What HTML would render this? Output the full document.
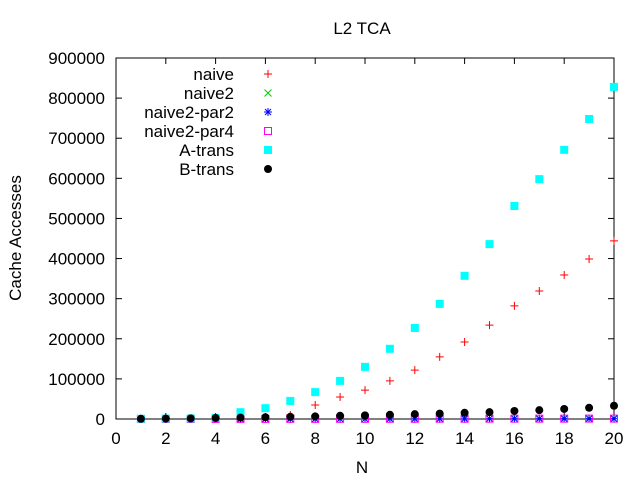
<!DOCTYPE html>
<html><head><meta charset="utf-8"><style>
html,body{margin:0;padding:0;background:#fff;}
svg text{font-family:"Liberation Sans",sans-serif;font-size:17px;fill:#000;}
</style></head><body>
<svg id="chart" width="640" height="480" xmlns="http://www.w3.org/2000/svg">
<text x="362" y="34" text-anchor="middle">L2 TCA</text>
<text x="362" y="473" text-anchor="middle">N</text>
<text transform="translate(21,238) rotate(-90)" text-anchor="middle">Cache Accesses</text>
<g id="axes"></g>
<g id="marks"></g>
<g id="legend"></g>
</svg>
<script>
const xs = [1,2,3,4,5,6,7,8,9,10,11,12,13,14,15,16,17,18,19,20];
const naive = [300,600,1000,2000,2500,4000,10000,35000,55000,72000,95000,122000,155000,192000,234000,282000,319000,359000,399000,444000];
const naive2 = [100,100,200,200,300,300,400,400,500,500,600,600,700,700,800,800,900,900,1000,1000];
const par2 = [100,100,200,200,300,300,400,400,500,500,600,600,700,700,800,800,900,900,1000,1000];
const par4 = [100,100,200,200,300,300,400,400,500,500,600,600,700,700,800,800,900,900,1000,1000];
const atrans = [500,1000,1500,3000,17000,27000,45000,67000,95000,130000,175000,227000,287000,357000,436000,531000,598000,671000,748000,828000];
const btrans = [500,1000,1500,2500,3500,4500,5500,6500,8000,9000,10500,12000,13500,15500,17000,20000,22000,25000,28000,33000];
const xTicks = [0,2,4,6,8,10,12,14,16,18,20];
const yTicks = [0,100000,200000,300000,400000,500000,600000,700000,800000,900000];
const seriesNames = ["naive","naive2","naive2-par2","naive2-par4","A-trans","B-trans"];

const NS="http://www.w3.org/2000/svg";
const L=116,R=614,T=58,B=419;
const sx=v=>L+(v-0)/20*(R-L);
const sy=v=>B-v/900000*(B-T);
function mk(tag,attrs,parent){const e=document.createElementNS(NS,tag);for(const k in attrs)e.setAttribute(k,attrs[k]);parent.appendChild(e);return e;}
const axes=document.getElementById('axes'),marks=document.getElementById('marks'),legend=document.getElementById('legend');
const border=mk('rect',{x:L,y:T,width:R-L,height:B-T,fill:'none',stroke:'#000','stroke-width':1},axes);


xTicks.forEach(t=>{
  const x=sx(t);
  mk('line',{x1:x,y1:B,x2:x,y2:B-6,stroke:'#000'},axes);
  mk('line',{x1:x,y1:T,x2:x,y2:T+6,stroke:'#000'},axes);
  const tx=mk('text',{x:x,y:444,'text-anchor':'middle'},axes);tx.textContent=t;
  
  
});
yTicks.forEach(t=>{
  const y=sy(t);
  mk('line',{x1:L,y1:y,x2:L+6,y2:y,stroke:'#000'},axes);
  mk('line',{x1:R,y1:y,x2:R-6,y2:y,stroke:'#000'},axes);
  const tx=mk('text',{x:105,y:y+6,'text-anchor':'end'},axes);tx.textContent=t;
  
  
});
function marker(type,x,y,parent){
  const g=mk('g',{},parent);
  if(type===0){mk('path',{d:`M${x-4},${y}H${x+4}M${x},${y-4}V${y+4}`,stroke:'#f00','stroke-width':1},g);}
  else if(type===1){mk('path',{d:`M${x-3.5},${y-3.5}L${x+3.5},${y+3.5}M${x-3.5},${y+3.5}L${x+3.5},${y-3.5}`,stroke:'#0c0','stroke-width':1},g);}
  else if(type===2){mk('path',{d:`M${x-4},${y}H${x+4}M${x},${y-4}V${y+4}M${x-3},${y-3}L${x+3},${y+3}M${x-3},${y+3}L${x+3},${y-3}`,stroke:'#00f','stroke-width':1},g);}
  else if(type===3){mk('rect',{x:x-3.5,y:y-3.5,width:7,height:7,fill:'none',stroke:'#f0f','stroke-width':1},g);}
  else if(type===4){mk('rect',{x:x-4,y:y-4,width:8,height:8,fill:'#0ff'},g);}
  else {mk('circle',{cx:x,cy:y,r:4,fill:'#000'},g);}
  return g;
}
const all=[naive,naive2,par2,par4,atrans,btrans];
all.forEach((s,i)=>{
  s.forEach((v,j)=>{
    const g=marker(i,sx(xs[j]),sy(v),marks);
    
    
  });
});
seriesNames.forEach((n,i)=>{
  const y=74+i*19;
  const tx=mk('text',{x:234,y:y+6,'text-anchor':'end'},legend);tx.textContent=n;
  
  
  const g=marker(i,268,y,legend);
  
  
});
</script>
</body></html>
